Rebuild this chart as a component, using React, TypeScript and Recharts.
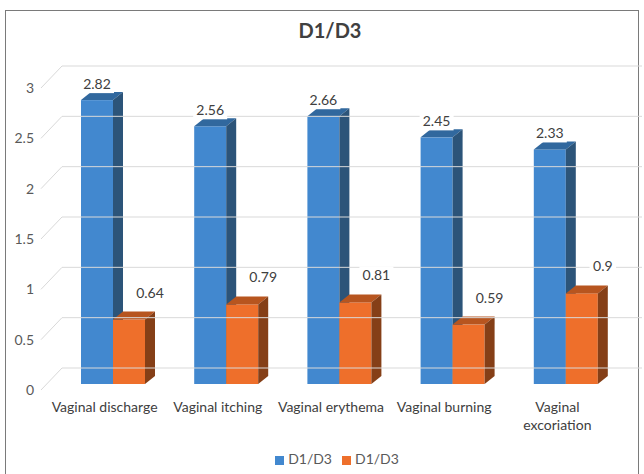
import React from 'react'
import { BarChart, Bar, XAxis, YAxis, Legend, LabelList } from 'recharts'

const categories = ['Vaginal discharge', 'Vaginal itching', 'Vaginal erythema', 'Vaginal burning', 'Vaginal excoriation']
const d1Values = [2.82, 2.56, 2.66, 2.45, 2.33]
const d3Values = [0.64, 0.79, 0.81, 0.59, 0.9]
const yTicks = [0, 0.5, 1, 1.5, 2, 2.5, 3]

const data = categories.map((name, i) => ({ name, d1: d1Values[i], d3: d3Values[i] }))

const FONT = 'Lato, "Open Sans", sans-serif'
const DX = 10
const DY = 8

const palette = {
    blue: { front: '#4288CF', top: '#31689E', side: '#2C5479' },
    orange: { front: '#EE6F2B', top: '#B7551F', side: '#853F17' }
}

function make3DBar(colors: { front: string; top: string; side: string }) {
    return (props: any) => {
        const { x, y, width, height } = props
        if (height == null || width == null) return <g />
        return (
            <g>
                <rect x={x} y={y} width={width} height={height} fill={colors.front} />
                <polygon
                    points={`${x},${y} ${x + DX},${y - DY} ${x + width + DX},${y - DY} ${x + width},${y}`}
                    fill={colors.top}
                />
                <polygon
                    points={`${x + width},${y} ${x + width + DX},${y - DY} ${x + width + DX},${y + height - DY} ${x + width},${y + height}`}
                    fill={colors.side}
                />
            </g>
        )
    }
}

function makeLabel(offsetX: number, offsetY: number) {
    return (props: any) => {
        const { x, y, width, value } = props
        const cx = x + width / 2 + offsetX
        const cy = y - offsetY
        const text = String(value)
        const w = text.length * 7.5 + 4
        return (
            <g>
                <rect x={cx - w / 2} y={cy - 9} width={w} height={18} fill="#fff" />
                <text x={cx} y={cy + 5} textAnchor="middle" fontSize={14} fontFamily={FONT} fill="#404040">
                    {text}
                </text>
            </g>
        )
    }
}

// y tick + back-wall gridline (3D look: wall sits up/right of the front edge)
function YTick(props: any) {
    const { y, payload } = props
    return (
        <g>
            <line x1={62} y1={y - 16} x2={642} y2={y - 16} stroke="#d9d9d9" strokeWidth={1} />
            <line x1={41} y1={y + 6} x2={62} y2={y - 16} stroke="#d9d9d9" strokeWidth={1} />
            <text x={34} y={y + 11} textAnchor="end" fontSize={14} fontFamily={FONT} fill="#595959">
                {payload.value}
            </text>
        </g>
    )
}

function XTick(props: any) {
    const { x, y, payload } = props
    const label: string = payload.value
    const lines = label.length > 18 ? label.split(' ') : [label]
    return (
        <text x={x - 8} y={y + 20} textAnchor="middle" fontSize={14} fontFamily={FONT} fill="#404040">
            {lines.map((l, i) => (
                <tspan key={i} x={x - 8} dy={i === 0 ? 0 : 18}>
                    {l}
                </tspan>
            ))}
        </text>
    )
}

export default function App() {
    return (
        <div style={{ position: 'absolute', left: 0, top: 0, width: 644, height: 474, background: '#fff', overflow: 'hidden' }}>
            <div
                style={{
                    position: 'absolute',
                    left: 5,
                    top: 10,
                    width: 634,
                    height: 480,
                    border: '1px solid #7a7a7a',
                    boxSizing: 'border-box'
                }}
            />
            <div
                style={{
                    position: 'absolute',
                    left: 0,
                    top: 18,
                    width: 644,
                    textAlign: 'center',
                    fontFamily: FONT,
                    fontWeight: 700,
                    fontSize: 20,
                    color: '#404040',
                    paddingLeft: 16,
                    boxSizing: 'border-box'
                }}
            >
                D1/D3
            </div>
            <div style={{ position: 'absolute', left: 0, top: 0 }}>
                <BarChart
                    width={644}
                    height={474}
                    data={data}
                    margin={{ top: 82, right: 22, left: 26, bottom: 43 }}
                    barGap={0}
                    barSize={32}
                >
                    <YAxis
                        width={30}
                        domain={[0, 3]}
                        ticks={yTicks}
                        axisLine={false}
                        tickLine={false}
                        tick={<YTick />}
                    />
                    <XAxis dataKey="name" axisLine={false} tickLine={false} interval={0} tick={<XTick />} />
                    <Legend
                        iconType="square"
                        iconSize={9}
                        verticalAlign="bottom"
                        wrapperStyle={{ top: 450, left: 20, width: 644, fontFamily: FONT, fontSize: 14 }}
                        formatter={(v: string) => <span style={{ color: '#595959' }}>{v}</span>}
                    />
                    <Bar dataKey="d1" name="D1/D3" fill={palette.blue.front} shape={make3DBar(palette.blue)} isAnimationActive={false}>
                        <LabelList dataKey="d1" content={makeLabel(0, 16)} />
                    </Bar>
                    <Bar dataKey="d3" name="D1/D3" fill={palette.orange.front} shape={make3DBar(palette.orange)} isAnimationActive={false}>
                        <LabelList dataKey="d3" content={makeLabel(21, 27)} />
                    </Bar>
                </BarChart>
            </div>
        </div>
    )
}
